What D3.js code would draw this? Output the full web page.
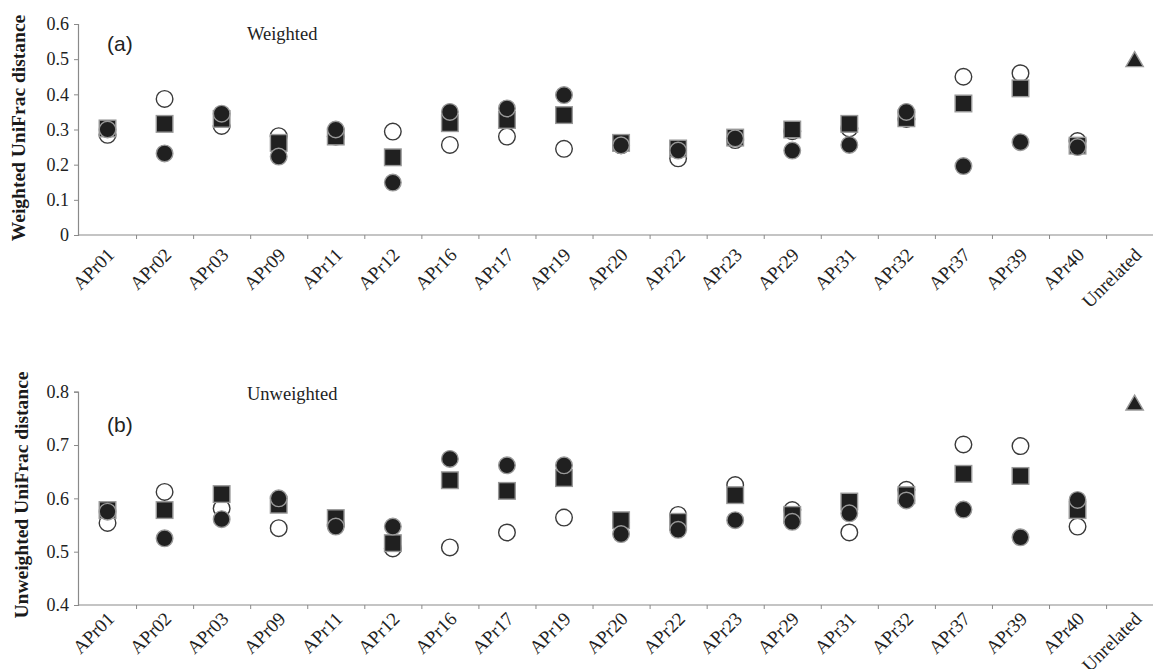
<!DOCTYPE html>
<html>
<head>
<meta charset="utf-8">
<script src="https://cdn.jsdelivr.net/npm/d3@7"></script>
<style>
  html, body { margin: 0; padding: 0; background: #fff; }
  svg { display: block; }
</style>
</head>
<body>
<svg id="chart" width="1153" height="669"></svg>
<script>
// Sample groups on the x axis; the last slot holds the unrelated reference pair.
const categories = ["APr01","APr02","APr03","APr09","APr11","APr12","APr16","APr17","APr19",
                    "APr20","APr22","APr23","APr29","APr31","APr32","APr37","APr39","APr40"];
const unrelatedLabel = "Unrelated";

// Weighted UniFrac distances (panel a)
const weightedOpen   = [0.285,0.387,0.31,0.281,0.28,0.294,0.256,0.28,0.245,0.255,0.218,0.27,0.295,0.303,0.33,0.45,0.46,0.267];
const weightedSquare = [0.303,0.316,0.33,0.262,0.28,0.221,0.318,0.327,0.341,0.262,0.246,0.277,0.30,0.316,0.332,0.374,0.417,0.254];
const weightedFilled = [0.30,0.232,0.345,0.223,0.30,0.149,0.35,0.36,0.398,0.255,0.24,0.275,0.24,0.256,0.35,0.196,0.264,0.25];
const weightedUnrelated = 0.493;

// Unweighted UniFrac distances (panel b)
const unweightedOpen   = [0.554,0.612,0.581,0.544,0.55,0.506,0.508,0.536,0.564,0.555,0.569,0.625,0.578,0.536,0.616,0.701,0.698,0.547];
const unweightedSquare = [0.578,0.578,0.608,0.588,0.563,0.516,0.634,0.614,0.638,0.559,0.556,0.606,0.569,0.594,0.606,0.646,0.642,0.578];
const unweightedFilled = [0.575,0.525,0.561,0.60,0.547,0.547,0.674,0.662,0.662,0.533,0.541,0.559,0.556,0.572,0.596,0.579,0.527,0.597];
const unweightedUnrelated = 0.775;

const weightedTicks = [0, 0.1, 0.2, 0.3, 0.4, 0.5, 0.6];
const unweightedTicks = [0.4, 0.5, 0.6, 0.7, 0.8];

const SERIF = "'Liberation Serif', 'Times New Roman', serif";
const SANS = "'Liberation Sans', Arial, sans-serif";

const svg = d3.select("#chart");
const allCats = categories.concat([unrelatedLabel]);
const x0 = 79, bandW = 57.06;
const x = d3.scaleBand().domain(allCats).range([x0, x0 + bandW * allCats.length]).padding(0);
const xEdge = d3.scaleLinear().domain([0, allCats.length]).range([x0, x0 + bandW * allCats.length]);

const INK = "#202020";
const HALO = "#999";

function panel(cfg) {
  const g = svg.append("g");
  const y = d3.scaleLinear().domain(cfg.domain).range(cfg.range);
  const axisY = cfg.range[0];

  // y axis
  const ya = g.append("g").attr("transform", `translate(${x0 - 1},0)`)
    .attr("font-family", SERIF)
    .call(d3.axisLeft(y).tickValues(cfg.ticks).tickSize(4).tickPadding(5)
      .tickFormat(d => d === 0 ? "0" : d3.format(".1f")(d)));
  ya.attr("font-family", SERIF).attr("font-size", 18);
  ya.select(".domain").attr("stroke", "#8a8a8a").attr("stroke-width", 1.2);
  ya.selectAll(".tick line").attr("stroke", "#8a8a8a");
  ya.selectAll(".tick text").attr("fill", "#222");

  // x axis: ticks on category boundaries
  const xa = g.append("g").attr("transform", `translate(0,${axisY})`)
    .call(d3.axisBottom(xEdge).tickValues(d3.range(1, allCats.length + 1)).tickSize(4).tickFormat(""));
  xa.select(".domain").attr("stroke", "#8a8a8a").attr("stroke-width", 1.2)
    .attr("d", `M${x0 - 1},0H${x0 + bandW * allCats.length}`);
  xa.selectAll(".tick line").attr("stroke", "#8a8a8a");

  // rotated category labels
  g.append("g").selectAll("text").data(allCats).join("text")
    .attr("transform", d => `translate(${x(d) + x.bandwidth() / 2 + 8},${axisY + cfg.labelDrop}) rotate(-45)`)
    .attr("text-anchor", "end")
    .attr("font-family", SERIF)
    .attr("font-size", 19).attr("fill", "#222")
    .text(d => d);

  // y axis title
  g.append("text")
    .attr("transform", `translate(${cfg.titleX},${cfg.titleY}) rotate(-90)`)
    .attr("text-anchor", "middle")
    .attr("font-family", SERIF)
    .attr("font-weight", "bold").attr("font-size", 19.5).attr("fill", "#1a1a1a")
    .text(cfg.title);

  // panel letter and heading
  g.append("text").attr("x", cfg.letterX).attr("y", cfg.letterY)
    .attr("font-family", SANS).attr("font-size", 21).attr("fill", "#222")
    .text(cfg.letter);
  g.append("text").attr("x", cfg.headX).attr("y", cfg.headY)
    .attr("font-family", SERIF).attr("font-size", 18.5).attr("fill", "#222")
    .text(cfg.heading);

  const cx = d => x(d) + x.bandwidth() / 2;
  const r = 8.3;

  // open circles underneath
  g.append("g").selectAll("circle").data(categories.map((c, i) => [c, cfg.open[i]])).join("circle")
    .attr("cx", d => cx(d[0])).attr("cy", d => y(d[1])).attr("r", r)
    .attr("fill", "#fff").attr("stroke", "#3a3a3a").attr("stroke-width", 1.4);

  // filled squares
  g.append("g").selectAll("rect").data(categories.map((c, i) => [c, cfg.square[i]])).join("rect")
    .attr("x", d => cx(d[0]) - r).attr("y", d => y(d[1]) - r).attr("width", 2 * r).attr("height", 2 * r)
    .attr("fill", INK).attr("stroke", HALO).attr("stroke-width", 1.4);

  // filled circles
  g.append("g").selectAll("circle").data(categories.map((c, i) => [c, cfg.filled[i]])).join("circle")
    .attr("cx", d => cx(d[0])).attr("cy", d => y(d[1])).attr("r", r)
    .attr("fill", INK).attr("stroke", HALO).attr("stroke-width", 1.4);

  // unrelated triangle
  const tri = d3.symbol().type(d3.symbolTriangle).size(130);
  g.append("path").attr("d", tri)
    .attr("transform", `translate(${cx(unrelatedLabel)},${y(cfg.unrelated)})`)
    .attr("fill", INK).attr("stroke", HALO).attr("stroke-width", 1.4);
}

panel({
  domain: [0, 0.6], range: [235, 24], ticks: weightedTicks, labelDrop: 21,
  open: weightedOpen, square: weightedSquare, filled: weightedFilled, unrelated: weightedUnrelated,
  title: "Weighted UniFrac distance", titleX: 25, titleY: 128,
  letter: "(a)", letterX: 107, letterY: 51,
  heading: "Weighted", headX: 247, headY: 40
});

panel({
  domain: [0.4, 0.8], range: [605, 391.7], ticks: unweightedTicks, labelDrop: 15,
  open: unweightedOpen, square: unweightedSquare, filled: unweightedFilled, unrelated: unweightedUnrelated,
  title: "Unweighted UniFrac distance", titleX: 28, titleY: 495,
  letter: "(b)", letterX: 107, letterY: 432,
  heading: "Unweighted", headX: 247, headY: 400
});
</script>
</body>
</html>
